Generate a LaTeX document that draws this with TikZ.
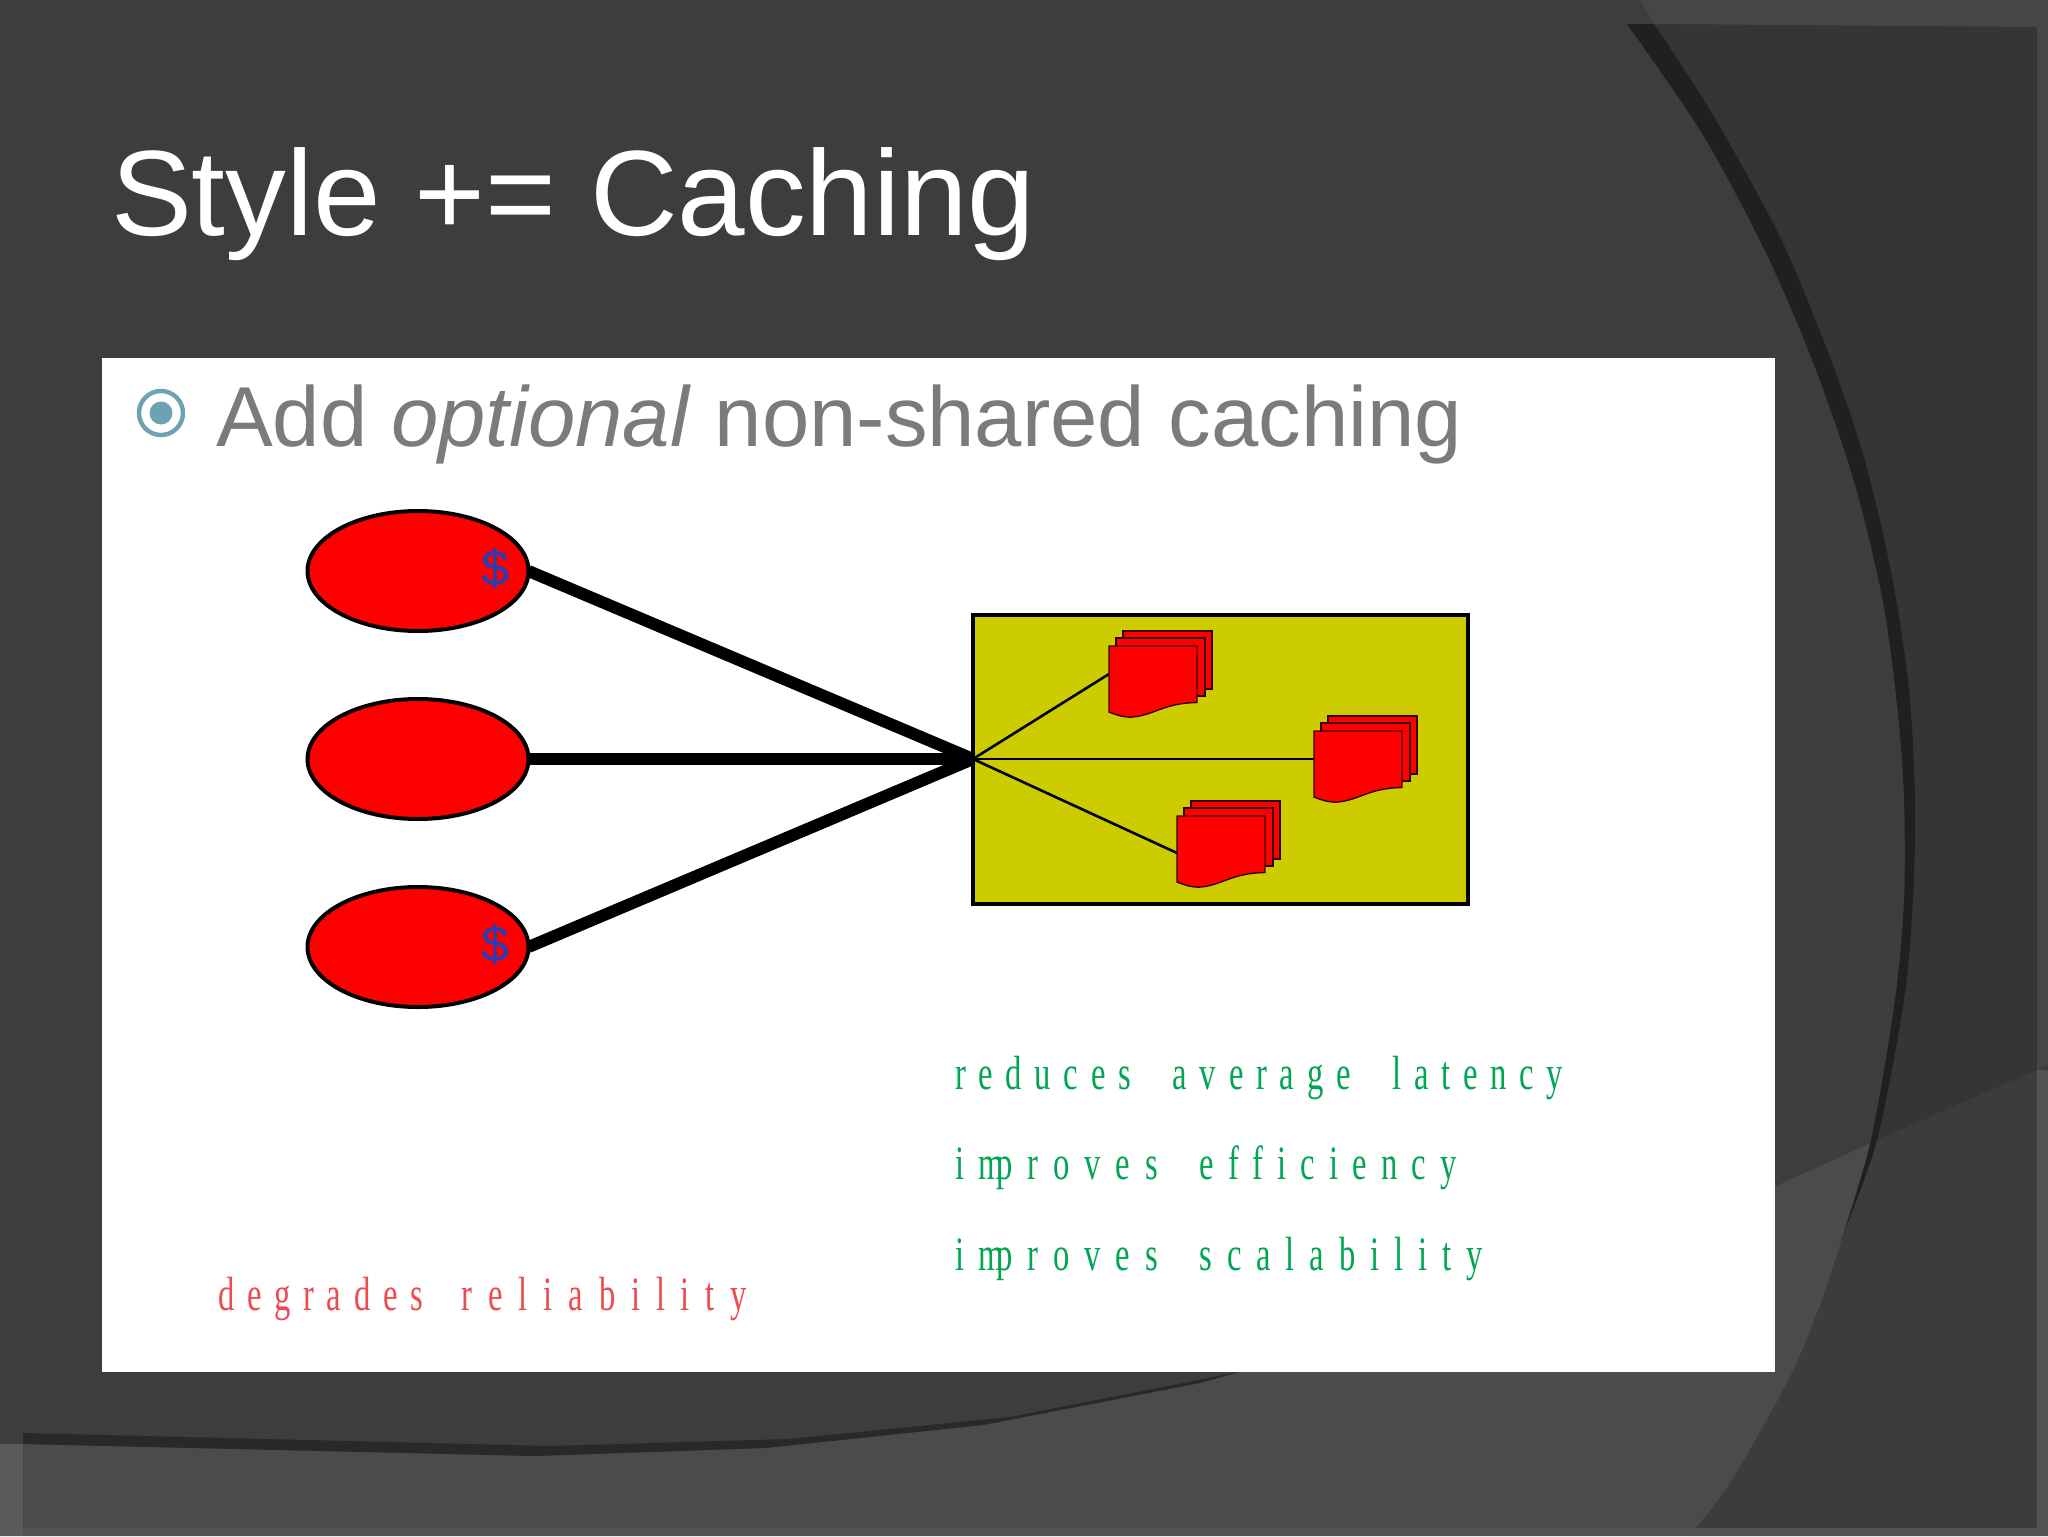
\documentclass[tikz,border=0pt]{standalone}
\usepackage{fontspec}
\setmainfont{Liberation Sans}
\newfontfamily\spreadserif[FakeStretch=0.68,LetterSpace=26.5,WordSpace=2.0]{Liberation Serif}
\newfontfamily\midserif[FakeStretch=0.68,LetterSpace=29.5]{Liberation Serif}
\newfontfamily\widerserif[FakeStretch=0.68,LetterSpace=31]{Liberation Serif}
\newfontfamily\widestserif[FakeStretch=0.68,LetterSpace=33]{Liberation Serif}
\definecolor{bgbase}{HTML}{3D3D3E}
\definecolor{bgdark}{HTML}{353436}
\definecolor{bgband}{HTML}{201F21}
\definecolor{bgbandb}{HTML}{29282A}
\definecolor{bglight}{HTML}{4B4A4C}
\definecolor{bgmid}{HTML}{3C3B3D}
\definecolor{framea}{HTML}{464646}
\definecolor{frameb}{HTML}{525153}
\definecolor{framec}{HTML}{5A5A5A}
\definecolor{bodygray}{HTML}{7B7A7D}
\definecolor{bullet}{HTML}{6CA3B3}
\definecolor{olivebox}{HTML}{CCCC00}
\definecolor{dollar}{HTML}{1F3FBF}
\definecolor{goodgreen}{HTML}{00A651}
\definecolor{badred}{HTML}{EE4B50}
\tikzset{
  x=0.5pt,y=-0.5pt,
  txt/.style={anchor=base west,inner sep=0pt,outer sep=0pt},
  note/.style={txt,font=\spreadserif\fontsize{24}{28}\selectfont},
  client/.style={ellipse,draw=black,fill=red,line width=2pt,minimum width=110.5pt,minimum height=60pt,inner sep=0pt,outer sep=0pt},
  spoke/.style={line width=6pt,black},
  thinspoke/.style={line width=1.3pt,black},
  sheet/.style={draw=black!80!red,fill=red,line width=0.7pt},
  smoothedge/.style={smooth,tension=0.5},
  pics/stackdoc/.style={code={
    \path[sheet] (14,-15) rectangle (103,43);
    \path[sheet] (7,-8) rectangle (96,50);
    \path[sheet] (0,66) .. controls (10,70) and (16,71.5) .. (24,71) .. controls (45,69) and (55,57) .. (88,56.5) -- (88,0) -- (0,0) -- cycle;
  }}
}
\usetikzlibrary{shapes.geometric}
\newcommand{\wide}[1]{{\widerserif\fontsize{24}{28}\selectfont #1}}
\newcommand{\mids}[1]{{\midserif\fontsize{24}{28}\selectfont #1}}
\newcommand{\widest}[1]{{\widestserif\fontsize{24}{28}\selectfont #1}}
\begin{document}
\begin{tikzpicture}
\useasboundingbox (0,0) rectangle (2048,1536);
\fill[bgbase] (0,0) rectangle (2048,1536);
% darker area right of the big curve
\fill[bgdark] (1640,0) -- (1654,24) -- plot[smoothedge] coordinates {(1654,24) (1713,115) (1780,237) (1828,352) (1863,454) (1891,571) (1909,689) (1915,800) (1913,900) (1904,1000) (1877,1140)} -- (2048,1065) -- (2048,0) -- cycle;
% lighter lower area
\fill[bglight] (0,1444) -- (23,1444) -- (535,1456) -- (765,1448) -- (983,1425) -- (1200,1383) -- (1239,1372) -- (1776,1186) -- (1871,1143) -- plot[smoothedge] coordinates {(1871,1143) (1844,1232) (1819,1308) (1792,1373) (1747,1455) (1720,1498) (1689,1536)} -- (0,1536) -- cycle;
% right of curve, below the diagonal
\fill[bgmid] (1871,1143) -- (2048,1065) -- (2048,1536) -- (1689,1536) -- plot[smoothedge] coordinates {(1689,1536) (1720,1498) (1747,1455) (1792,1373) (1819,1308) (1844,1232) (1871,1143)} -- cycle;
% dark bands
\fill[bgband] (1627,24) -- plot[smoothedge] coordinates {(1627,24) (1703,135) (1767,255) (1816,370) (1855,485) (1883,602) (1898,714) (1904,800) (1904,900) (1895,1000) (1871,1140) (1844,1232)} -- plot[smoothedge] coordinates {(1844,1232) (1877,1140) (1904,1000) (1913,900) (1915,800) (1909,689) (1891,571) (1863,454) (1828,352) (1780,237) (1713,115) (1654,24)} -- cycle;
\fill[bgbandb] (23,1433) -- (551,1446) -- (788,1439) -- (1010,1417) -- (1239,1372) -- (1200,1383) -- (983,1425) -- (765,1448) -- (535,1456) -- (23,1444) -- cycle;
% frame strips
\fill[framea] (1640,0) -- (1654,24) -- (2037,27) -- (2037,1070) -- (2048,1065) -- (2048,0) -- cycle;
\fill[frameb] (2037,1070) rectangle (2048,1536);
\fill[frameb] (0,1528) rectangle (2048,1536);
\fill[framec] (0,1444) rectangle (23,1536);
% panel
\fill[white] (102,358) rectangle (1775,1372);
% title and bullet
\node[txt,white,font=\fontsize{60.7}{70}\selectfont] (title) at (111,235) {Style += Caching};
\node[circle,draw=bullet,line width=2.2pt,minimum size=22pt,inner sep=0pt] (ring) at (161,413) {};
\node[circle,fill=bullet,minimum size=11.5pt,inner sep=0pt] (dot) at (161,413) {};
\node[txt,bodygray,font=\fontsize{42.55}{50}\selectfont] (body) at (216,446) {Add \textit{optional} non-shared caching};
% clients
\node[client] (c1) at (418,571) {};
\node[client] (c2) at (418,759) {};
\node[client] (c3) at (418,947) {};
\node[dollar,font=\fontsize{25}{30}\selectfont,inner sep=0pt] (s1) at (495,569) {\$};
\node[dollar,font=\fontsize{25}{30}\selectfont,inner sep=0pt] (s3) at (495,945) {\$};
% server box
\node[draw=black,fill=olivebox,line width=2pt,minimum width=247.5pt,minimum height=144.5pt,inner sep=0pt,outer sep=0pt] (server) at (1220,759) {};
\coordinate (hub) at (973,759);
\draw[spoke] (c1.east) -- (hub);
\draw[spoke] (c2.east) -- (hub);
\draw[spoke] (c3.east) -- (hub);
\coordinate (d1) at (1109,674);
\coordinate (d2) at (1314,759);
\coordinate (d3) at (1177,853);
\draw[thinspoke] (hub) -- (d1);
\draw[thinspoke] (hub) -- (d2);
\draw[thinspoke] (hub) -- (d3);
\pic at (1109,646) {stackdoc};
\pic at (1314,731) {stackdoc};
\pic at (1177,816) {stackdoc};
% labels
\node[note,goodgreen] (l1) at (955,1089) {reduces average latency};
\node[note,goodgreen] (l2) at (955,1179) {\wide{im\kern-4pt proves} \mids{efficiency}};
\node[note,goodgreen] (l3) at (955,1270) {\wide{im\kern-4pt proves} \wide{scalability}};
\node[note,badred] (l4) at (218,1310) {degrades\kern-1.5pt{} \widest{reliability}};
\end{tikzpicture}
\end{document}
